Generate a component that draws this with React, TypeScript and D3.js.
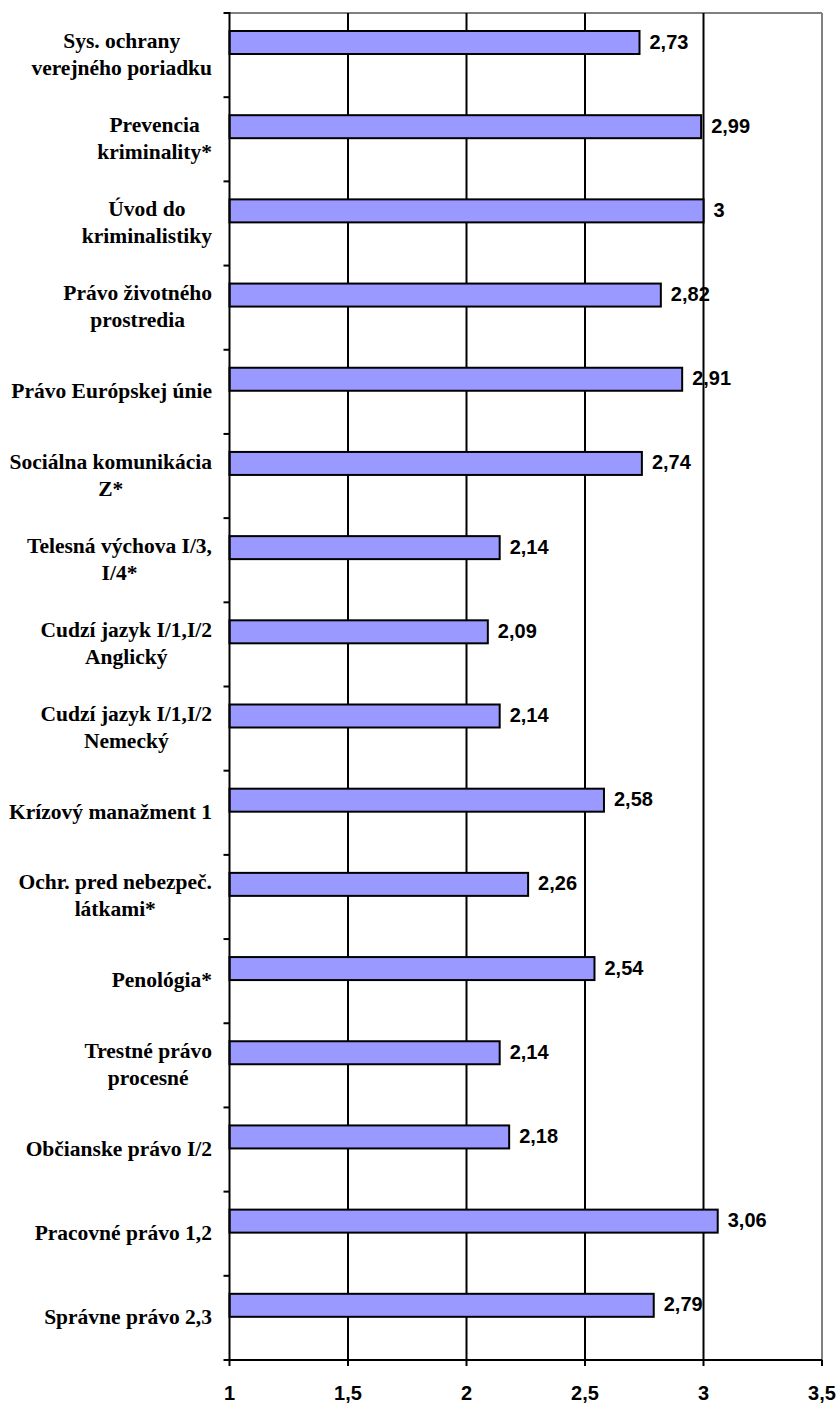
import React from "react";
import * as d3 from "d3";

const categories: string[] = [
  "Sys. ochrany\nverejného poriadku",
  "Prevencia\nkriminality*",
  "Úvod do\nkriminalistiky",
  "Právo životného\nprostredia",
  "Právo Európskej únie",
  "Sociálna komunikácia\nZ*",
  "Telesná výchova I/3,\nI/4*",
  "Cudzí jazyk I/1,I/2\nAnglický",
  "Cudzí jazyk I/1,I/2\nNemecký",
  "Krízový manažment 1",
  "Ochr. pred nebezpeč.\nlátkami*",
  "Penológia*",
  "Trestné právo\nprocesné",
  "Občianske právo I/2",
  "Pracovné právo 1,2",
  "Správne právo 2,3",
];
const values: number[] = [2.73, 2.99, 3, 2.82, 2.91, 2.74, 2.14, 2.09, 2.14, 2.58, 2.26, 2.54, 2.14, 2.18, 3.06, 2.79];
const xTicks: number[] = [1, 1.5, 2, 2.5, 3, 3.5];

const W = 840;
const H = 1403;
const left = 229.5;
const right = 822;
const top = 13;
const bottom = 1360;
const labelRight = 212;
const catSize = 21.5;
const catFont = `bold ${catSize}px 'Liberation Serif', 'Times New Roman', serif`;
const numFont = "'Liberation Sans', Arial, sans-serif";

let ctx: CanvasRenderingContext2D | null = null;
function measure(text: string): number {
  if (!ctx) {
    const c = document.createElement("canvas");
    ctx = c.getContext("2d");
  }
  if (!ctx) return text.length * 9;
  ctx.font = catFont;
  return ctx.measureText(text).width;
}

const fmt = (v: number) => String(v).replace(".", ",");

export default function App() {
  const x = d3.scaleLinear().domain([1, 3.5]).range([left, right]);
  const y = d3.scaleBand<number>().domain(d3.range(categories.length)).range([top, bottom]).padding(0);
  const bw = y.bandwidth();
  const barOff = 18;
  const barH = 23;
  const lineGap = 27;

  return (
    <svg width={W} height={H} style={{ position: "absolute", left: 0, top: 0, background: "#fff" }}>
      <rect x={0} y={0} width={W} height={H} fill="#fff" />
      <line x1={left} x2={right} y1={top} y2={top} stroke="#808080" strokeWidth={2} />
      <line x1={right} x2={right} y1={top} y2={bottom} stroke="#808080" strokeWidth={2} />
      {xTicks.slice(1, -1).map((t) => (
        <line key={"g" + t} x1={x(t)} x2={x(t)} y1={top} y2={bottom} stroke="#000" strokeWidth={2} />
      ))}
      {values.map((v, i) => {
        const by = (y(i) as number) + barOff;
        return (
          <g key={"b" + i}>
            <rect x={left} y={by} width={x(v) - left} height={barH} fill="#9999FF" stroke="#000" strokeWidth={2} />
            <text x={x(v) + 10} y={by + barH / 2 + 6} fontFamily={numFont} fontWeight="bold" fontSize={20} fill="#000">
              {fmt(v)}
            </text>
          </g>
        );
      })}
      <line x1={left} x2={left} y1={top - 1} y2={bottom + 1} stroke="#000" strokeWidth={2} />
      {d3.range(categories.length + 1).map((i) => {
        const yy = top + i * bw;
        return <line key={"lt" + i} x1={left - 6} x2={left} y1={yy} y2={yy} stroke="#000" strokeWidth={2} />;
      })}
      <line x1={left} x2={right} y1={bottom} y2={bottom} stroke="#000" strokeWidth={2} />
      {xTicks.map((t) => (
        <g key={"xt" + t}>
          <line x1={x(t)} x2={x(t)} y1={bottom} y2={bottom + 6} stroke="#000" strokeWidth={2} />
          <text x={x(t)} y={1400} textAnchor="middle" fontFamily={numFont} fontWeight="bold" fontSize={20} fill="#000">
            {fmt(t)}
          </text>
        </g>
      ))}
      {categories.map((c, i) => {
        const lines = c.split("\n");
        const maxW = Math.max(...lines.map(measure));
        const cx = labelRight - maxW / 2;
        const center = (y(i) as number) + bw / 2;
        const first = center + 6 - ((lines.length - 1) * lineGap) / 2;
        return (
          <text key={"c" + i} textAnchor="middle" fontFamily="'Liberation Serif', 'Times New Roman', serif" fontWeight="bold" fontSize={catSize} fill="#000">
            {lines.map((l, k) => (
              <tspan key={k} x={cx} y={first + k * lineGap}>
                {l}
              </tspan>
            ))}
          </text>
        );
      })}
    </svg>
  );
}
